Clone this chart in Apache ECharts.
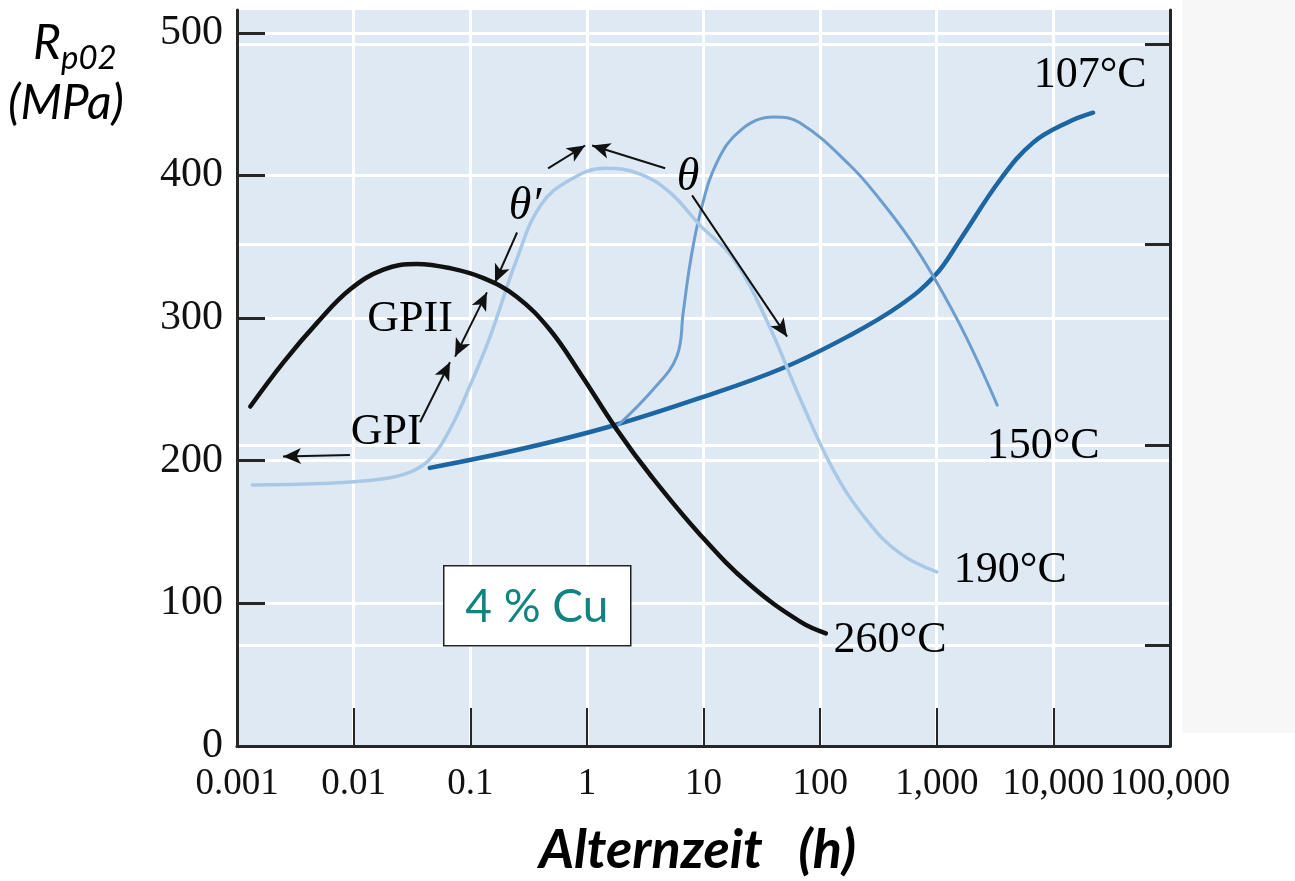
<!DOCTYPE html>
<html>
<head>
<meta charset="utf-8">
<script src="https://cdn.jsdelivr.net/npm/echarts@6/dist/echarts.min.js"></script>
<style>
html, body { margin: 0; padding: 0; background: #fff; }
#chart { width: 1295px; height: 881px; }
</style>
</head>
<body>
<div id="chart"></div>
<script>
// tick labels
var xTickLabels = ['0.001', '0.01', '0.1', '1', '10', '100', '1,000', '10,000', '100,000'];
var yTicks = [0, 100, 200, 300, 400, 500];
var ksiTicks = [10, 30, 50, 70];

// ageing time (h) and Rp0.2 (MPa) for each temperature
var t107 = [0.045, 0.267, 1.58, 9.35, 48, 181, 485, 969, 1589, 3500, 6700, 13100, 21900];
var r107 = [195, 208, 224, 244, 265, 288, 309, 330, 355, 397, 423, 437, 444];

var t150 = [1.75, 3.7, 5.9, 6.7, 7.7, 9.4, 13, 21, 40, 67, 181, 327, 592, 969, 1754, 3300];
var r150 = [223, 250, 273, 304, 339, 374, 409, 432, 441, 437, 407, 383, 355, 327, 288, 239];

var t190 = [0.00135, 0.0052, 0.0168, 0.0305, 0.045, 0.067, 0.1, 0.148, 0.25, 0.40, 0.72, 1.43, 2.86, 5.17, 9.35, 17.9, 35, 67, 129, 253, 485, 1000];
var r190 = [183, 184, 187, 192, 201, 222, 253, 287, 341, 379, 397, 405, 401, 388, 365, 342, 298, 244, 194, 158, 135, 122];

var t260 = [0.0013, 0.0025, 0.0049, 0.0093, 0.018, 0.035, 0.067, 0.13, 0.25, 0.48, 0.88, 1.8, 3.5, 9.4, 25, 68, 112];
var r260 = [238, 269, 297, 320, 334, 338, 335, 328, 315, 292, 261, 222, 190, 148, 113, 87, 79];

// curve labels (text, time, strength)
var labelText = ['107°C', '150°C', '190°C', '260°C', 'GPII', 'GPI', 'θ′', 'θ'];
var labelT = [20700, 8170, 4270, 398, 0.0305, 0.019, 0.295, 7.37];
var labelR = [470, 210, 123, 74, 299, 220, 378, 398];

// arrows: from, to, two heads or one, bend
var arrowFrom = [[0.0093, 204], [0.0371, 227], [0.0741, 273], [0.252, 360], [0.465, 405], [4.69, 405], [7.98, 386]];
var arrowTo = [[0.00248, 203], [0.067, 269], [0.139, 318], [0.163, 325], [0.965, 421], [1.11, 421], [52.1, 287]];
var arrowBoth = [false, false, true, false, false, false, false];
var arrowBend = [0, 0, 0, 0, 0.25, -0.25, 0.08];

var chart = echarts.init(document.getElementById('chart'), null);

var serif = "'Liberation Serif', 'Times New Roman', serif";
var axisColor = '#262626';

function pairs(t, r) {
    return t.map(function (v, i) { return [v, r[i]]; });
}

function curve(name, t, r, color, width) {
    return {
        name: name,
        type: 'line',
        data: pairs(t, r),
        showSymbol: false,
        smooth: 0.4,
        silent: true,
        lineStyle: { color: color, width: width, cap: 'round' }
    };
}

var labelData = labelText.map(function (s, i) {
    var italic = s.indexOf('θ') === 0;
    return {
        name: s,
        value: [labelT[i], labelR[i]],
        label: { fontStyle: italic ? 'italic' : 'normal', fontSize: italic ? 46 : 44 }
    };
});

var arrowData = arrowFrom.map(function (f, i) {
    return [
        { coord: f, symbol: arrowBoth[i] ? 'arrow' : 'none', lineStyle: { curveness: arrowBend[i] } },
        { coord: arrowTo[i], symbol: 'arrow' }
    ];
});

var option = {
    animation: false,
    backgroundColor: '#ffffff',
    grid: {
        left: 237,
        right: 125,
        top: 10,
        bottom: 135,
        show: true,
        backgroundColor: '#dfe9f4',
        borderWidth: 0,
        containLabel: false,
        outerBoundsMode: 'none'
    },
    xAxis: {
        type: 'log',
        logBase: 10,
        min: 0.001,
        max: 100000,
        splitNumber: 8,
        name: 'Alternzeit   (h)',
        nameLocation: 'middle',
        nameGap: 78,
        nameTextStyle: {
            fontFamily: 'Lato, sans-serif',
            fontStyle: 'italic',
            fontWeight: 'bold',
            fontSize: 54,
            color: '#000',
            padding: [0, 12, 0, 0]
        },
        axisLine: { show: true, lineStyle: { color: axisColor, width: 3 } },
        axisTick: { show: true, inside: true, length: 38, lineStyle: { color: axisColor, width: 2 } },
        minorTick: { show: false },
        axisLabel: {
            margin: 20,
            fontFamily: serif,
            fontSize: 37,
            color: '#111',
            formatter: function (v) {
                return xTickLabels[Math.round(Math.log10(v)) + 3];
            }
        },
        splitLine: { show: true, lineStyle: { color: '#ffffff', width: 3 } }
    },
    yAxis: [
        {
            type: 'value',
            min: 0,
            max: 516,
            interval: 100,
            axisLine: { show: true, lineStyle: { color: axisColor, width: 3 } },
            axisTick: { show: true, inside: true, length: 28, customValues: yTicks, lineStyle: { color: axisColor, width: 3 } },
            axisLabel: {
                margin: 14,
                fontFamily: serif,
                fontSize: 42,
                color: '#111',
                customValues: yTicks,
                formatter: function (v) { return yTicks.indexOf(v) >= 0 ? String(v) : ''; }
            },
            splitLine: { show: true, lineStyle: { color: '#ffffff', width: 3 } }
        },
        {
            type: 'value',
            position: 'right',
            min: 0,
            max: 73.4,
            axisLine: { show: true, lineStyle: { color: axisColor, width: 3 } },
            axisTick: { show: true, inside: true, length: 25, customValues: ksiTicks, lineStyle: { color: axisColor, width: 3 } },
            axisLabel: { show: false, customValues: ksiTicks },
            splitLine: { show: true, lineStyle: { color: '#ffffff', width: 3 } }
        }
    ],
    series: [
        curve('107°C', t107, r107, '#1b66a3', 4.5),
        curve('150°C', t150, r150, '#6d9dcc', 3),
        curve('190°C', t190, r190, '#a8c8e6', 3.5),
        curve('260°C', t260, r260, '#111111', 4.5),
        {
            name: 'labels',
            type: 'scatter',
            data: labelData,
            symbolSize: 1,
            silent: true,
            itemStyle: { color: 'rgba(0,0,0,0)', opacity: 1 },
            label: {
                show: true,
                position: 'inside',
                formatter: '{b}',
                fontFamily: serif,
                fontSize: 44,
                color: '#000',
                textBorderWidth: 0
            },
            markLine: {
                silent: true,
                animation: false,
                symbolSize: [12, 18],
                label: { show: false },
                lineStyle: { color: '#111', width: 2, type: 'solid', opacity: 1 },
                emphasis: { disabled: true },
                data: arrowData
            }
        }
    ],
    graphic: [
        {
            type: 'rect',
            shape: { x: 1182, y: 0, width: 113, height: 733 },
            style: { fill: '#f7f7f7' },
            silent: true
        },
        {
            type: 'text',
            left: 33,
            top: 20,
            style: { text: 'R', fontFamily: 'Lato, sans-serif', fontStyle: 'italic', fontSize: 48, fill: '#000' }
        },
        {
            type: 'text',
            left: 61,
            top: 42,
            style: { text: 'p02', fontFamily: 'Lato, sans-serif', fontStyle: 'italic', fontSize: 33, fill: '#000' }
        },
        {
            type: 'text',
            left: 8,
            top: 80,
            style: { text: '(MPa)', fontFamily: 'Lato, sans-serif', fontStyle: 'italic', fontSize: 48, fill: '#000' }
        },
        {
            type: 'group',
            left: 443,
            top: 565,
            z: 100,
            children: [
                {
                    type: 'rect',
                    z: 100,
                    shape: { x: 0, y: 0, width: 187, height: 80 },
                    style: { fill: '#ffffff', stroke: '#222', lineWidth: 1.5 }
                },
                {
                    type: 'text',
                    z: 101,
                    x: 93,
                    y: 41,
                    style: {
                        text: '4 % Cu',
                        fontFamily: 'Lato, sans-serif',
                        fontSize: 46,
                        fill: '#138381',
                        align: 'center',
                        verticalAlign: 'middle'
                    }
                }
            ]
        }
    ]
};

if (option && typeof option === 'object') {
    chart.setOption(option);
}

window.addEventListener('resize', function () {
    chart.resize();
});
</script>
</body>
</html>
